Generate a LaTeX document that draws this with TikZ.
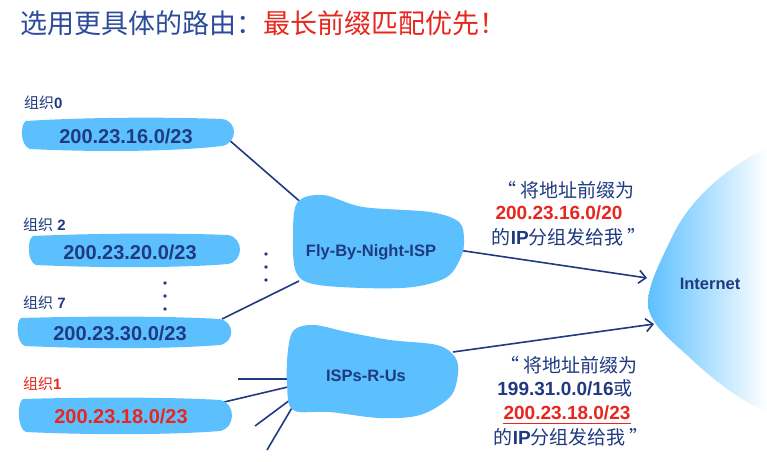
\documentclass[tikz,border=0pt]{standalone}
\usepackage{fontspec}
\setmainfont{Liberation Sans}
\newfontfamily\cjk{Noto Sans CJK SC}
\usetikzlibrary{arrows.meta}
\definecolor{navy}{HTML}{1F3A80}
\definecolor{tblue}{HTML}{2D4B9B}
\definecolor{myred}{HTML}{E8261D}
\definecolor{sky}{HTML}{5CC0FF}
\begin{document}
\begin{tikzpicture}[x=1pt,y=-1pt,
  blob/.style={fill=sky},
  conn/.style={draw=navy,line width=1.6pt},
  arr/.style={conn,-{Straight Barb[length=7pt,width=13pt]}},
  addr/.style={font=\fontsize{20}{24}\selectfont\bfseries,text=navy,inner sep=0pt},
  org/.style={font=\fontsize{15}{18}\selectfont\bfseries,text=navy,inner sep=0pt,anchor=west},
  isp/.style={font=\fontsize{16.5}{20}\selectfont\bfseries,text=navy,inner sep=0pt},
  lbl/.style={font=\fontsize{19}{22}\selectfont\bfseries,text=navy,inner sep=0pt},
  dotm/.style={fill=navy}]
\useasboundingbox (0,0) rectangle (767,461);
\fill[white] (0,0) rectangle (767,461);
% title
\node[anchor=west,inner sep=0pt,font=\cjk\fontsize{27}{30}\selectfont] (title) at (20,23)
  {\textcolor{tblue}{选用更具体的路由：}\textcolor{myred}{最长前缀匹配优先！}};
% Internet cloud
\shade[left color=sky,right color=white]
  (767,148) .. controls (725,168) and (690,200) .. (673,235)
  .. controls (660,262) and (648,285) .. (648,303)
  .. controls (648,322) and (668,338) .. (688,356)
  .. controls (708,375) and (735,398) .. (767,412) -- cycle;
% coordinates for connectors
\coordinate (b0e) at (228,139);
\coordinate (b7e) at (222,319);
\coordinate (b1e) at (220,403);
\coordinate (fA) at (304,205);
\coordinate (fB) at (299,281);
\coordinate (fC) at (458,250);
\coordinate (iA) at (292,379);
\coordinate (iB) at (292,386);
\coordinate (iC) at (290,400);
\coordinate (iD) at (293,406);
\coordinate (iE) at (453,352);
\coordinate (s1) at (238,379);
\coordinate (s2) at (255,426);
\coordinate (s3) at (267,450);
\coordinate (netA) at (647,278);
\coordinate (netB) at (654,324);
% connectors
\draw[conn] (b0e) -- (fA);
\draw[conn] (b7e) -- (fB);
\draw[conn] (b1e) -- (iB);
\draw[conn] (s1) -- (iA);
\draw[conn] (s2) -- (iC);
\draw[conn] (s3) -- (iD);
\draw[arr] (fC) -- (netA);
\draw[arr] (iE) -- (netB);
% org blobs
\fill[blob] (26,121) .. controls (90,117) and (170,117) .. (222,119)
  .. controls (238,121) and (238,143) .. (222,146)
  .. controls (170,152) and (90,152) .. (30,149)
  .. controls (20,146) and (20,124) .. (26,121) -- cycle;
\fill[blob] (33,236) .. controls (100,233) and (180,233) .. (228,235)
  .. controls (244,238) and (244,261) .. (228,264)
  .. controls (180,268) and (100,268) .. (36,265)
  .. controls (27,262) and (27,239) .. (33,236) -- cycle;
\fill[blob] (21,318) .. controls (90,316) and (170,316) .. (220,319)
  .. controls (235,322) and (235,342) .. (220,345)
  .. controls (170,349) and (90,349) .. (25,346)
  .. controls (16,343) and (16,321) .. (21,318) -- cycle;
\fill[blob] (23,399) .. controls (90,397) and (170,397) .. (220,400)
  .. controls (236,403) and (236,428) .. (220,431)
  .. controls (170,435) and (90,435) .. (26,432)
  .. controls (17,429) and (17,402) .. (23,399) -- cycle;
% ISP blobs
\fill[blob] plot[smooth cycle,tension=0.55] coordinates {(297,203) (323,195) (363,207) (430,212) (459,222) (464,240) (461,257) (447,277) (413,287) (363,288) (313,284) (296,272) (293,240)};
\fill[blob] plot[smooth cycle,tension=0.55] coordinates {(294,330) (314,325) (347,332) (390,340) (437,345) (455,357) (458,374) (450,397) (420,415) (380,418) (330,412) (293,410) (287,383) (288,350)};
% dots
\foreach \yy in {283,296,309} \fill[dotm] (165,\yy) circle (1.8);
\foreach \yy in {254,267,280} \fill[dotm] (266,\yy) circle (1.8);
% org labels
\node[org] (o0) at (24,103) {{\cjk\mdseries 组织}0};
\node[org] (o2) at (23,225) {{\cjk\mdseries 组织} 2};
\node[org] (o7) at (23,303) {{\cjk\mdseries 组织} 7};
\node[org,text=myred] (o1) at (23,384) {{\cjk\mdseries 组织}1};
% addresses
\node[addr] (a0) at (126,136) {200.23.16.0/23};
\node[addr] (a2) at (130,252) {200.23.20.0/23};
\node[addr] (a7) at (120,333) {200.23.30.0/23};
\node[addr,text=myred] (a1) at (121,416) {200.23.18.0/23};
% ISP names
\node[isp] (fly) at (371,252) {Fly-By-Night-ISP};
\node[isp] (rus) at (366,376) {ISPs-R-Us};
\node[isp] (net) at (710,284) {Internet};
% advert 1
\node[lbl] (q1a) at (566,190) {{\cjk\mdseries “\,将地址前缀为}};
\node[lbl,text=myred] (q1b) at (559,213) {200.23.16.0/20};
\node[lbl] (q1c) at (569,237) {{\cjk\mdseries 的}IP{\cjk\mdseries 分组发给我\,”}};
% advert 2
\node[lbl] (q2a) at (569,365) {{\cjk\mdseries “\,将地址前缀为}};
\node[lbl] (q2b) at (565,388) {199.31.0.0/16{\cjk\mdseries 或}};
\node[lbl,text=myred] (q2c) at (567,413) {200.23.18.0/23};
\draw[myred,line width=1.4pt] ([yshift=-3pt]q2c.south west) -- ([yshift=-3pt]q2c.south east);
\node[lbl] (q2d) at (571,437) {{\cjk\mdseries 的}IP{\cjk\mdseries 分组发给我\,”}};
\end{tikzpicture}
\end{document}
